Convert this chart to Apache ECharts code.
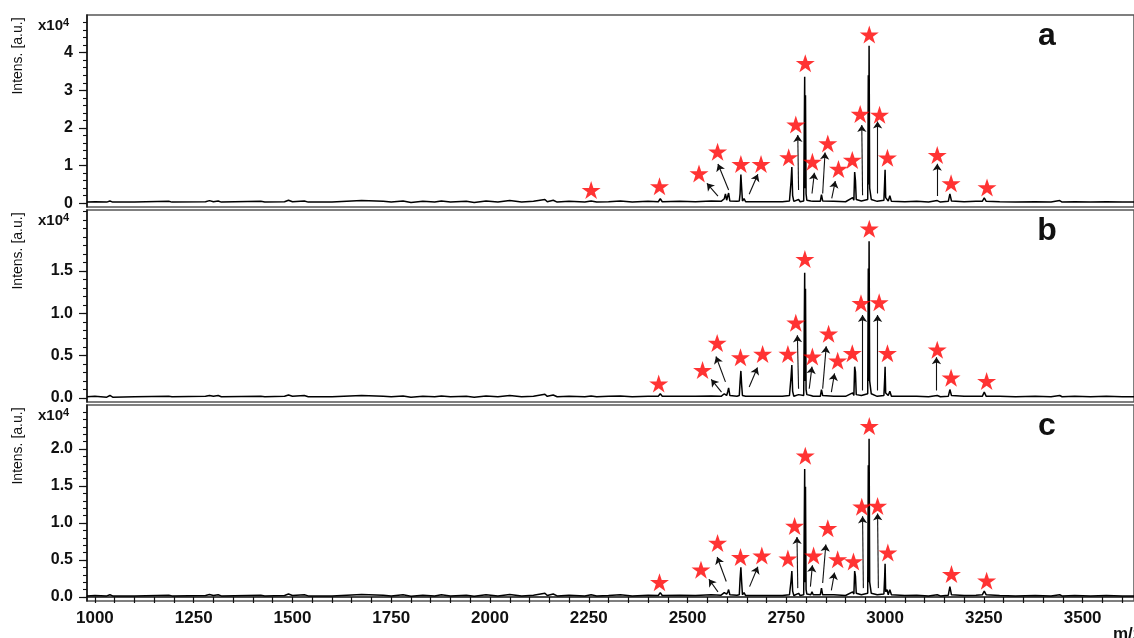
<!DOCTYPE html>
<html><head><meta charset="utf-8">
<script src="https://cdn.jsdelivr.net/npm/echarts@6/dist/echarts.min.js"></script>
<style>html,body{margin:0;padding:0;background:#fff}#c{width:1134px;height:638px}</style>
</head><body><div id="c"></div>
<script>
// ---- data ----
const mz = [
 980,1000,1030,1038,1045,1100,1187,1195,1280,1290,
 1300,1312,1320,1420,1430,1480,1490,1500,1530,1540,
 1600,1675,1680,1730,1750,1780,1800,1830,1860,1877,
 1900,1940,1960,1990,2020,2050,2080,2110,2139,2145,
 2160,2170,2200,2240,2256,2270,2300,2330,2360,2400,
 2426,2431,2436,2480,2520,2560,2585,2593,2596,2599,
 2602,2604,2607,2625,2631,2633,2635,2637,2639,2643,
 2647,2700,2740,2758,2762,2764,2766,2769,2781,2785,
 2794,2796.5,2797.5,2798.5,2800,2802,2812,2815,2818,2836,
 2839,2842,2870,2900,2918,2921,2923,2925,2927,2940,
 2956,2957.5,2958.5,2959.5,2961,2963,2965,2980,2997,2999,
 3000,3001.5,3005,3008,3012,3016,3050,3080,3110,3132,
 3140,3160,3164,3168,3200,3230,3246,3251,3256,3290,
 3330,3380,3420,3442,3448,3480,3520,3560,3600,3630];
const intensityA = [
 .03,.04,.03,.06,.03,.03,.05,.03,.04,.07,
 .04,.06,.03,.05,.03,.04,.08,.04,.06,.03,
 .03,.07,.03,.05,.03,.06,.02,.05,.03,.06,
 .03,.05,.02,.06,.03,.07,.03,.05,.10,.04,
 .08,.03,.05,.03,.06,.03,.04,.06,.03,.05,
 .04,.12,.04,.05,.04,.06,.05,.12,.25,.08,
 .20,.27,.06,.05,.06,.25,.76,.40,.06,.12,
 .04,.04,.04,.06,.58,.96,.20,.05,.10,.04,
 .06,3.36,.40,2.87,.25,.08,.06,.11,.05,.05,
 .23,.06,.05,.04,.15,.08,.83,.60,.10,.06,
 .10,3.40,.50,4.18,.40,.45,.10,.05,.08,.60,
 .89,.15,.20,.06,.20,.05,.04,.05,.03,.07,
 .03,.05,.25,.06,.04,.05,.05,.14,.05,.04,
 .03,.04,.03,.07,.03,.04,.03,.04,.03,.03];
const intensityB = [
 .015,.02,.01,.03,.01,.015,.02,.015,.02,.03,
 .02,.03,.015,.02,.015,.02,.035,.02,.03,.015,
 .015,.03,.015,.02,.015,.025,.01,.02,.015,.025,
 .015,.02,.01,.025,.015,.03,.015,.02,.045,.02,
 .035,.015,.02,.015,.025,.015,.02,.025,.015,.02,
 .02,.05,.02,.02,.02,.025,.02,.05,.07,.03,
 .08,.12,.03,.02,.03,.19,.32,.15,.03,.05,
 .02,.02,.02,.03,.25,.39,.08,.02,.04,.02,
 .03,1.48,.20,1.29,.10,.04,.03,.05,.02,.02,
 .10,.03,.02,.02,.06,.03,.37,.31,.04,.03,
 .05,1.53,.20,1.85,.20,.20,.05,.02,.03,.23,
 .37,.06,.08,.03,.08,.02,.02,.02,.015,.03,
 .015,.02,.10,.03,.02,.02,.02,.07,.02,.02,
 .015,.02,.015,.03,.015,.02,.015,.02,.015,.015];
const intensityC = [
 .015,.02,.015,.03,.015,.015,.025,.015,.02,.035,
 .02,.03,.015,.025,.015,.02,.04,.02,.03,.015,
 .015,.035,.015,.025,.015,.03,.01,.025,.015,.03,
 .015,.025,.01,.03,.015,.035,.015,.025,.05,.02,
 .04,.015,.025,.015,.03,.015,.02,.03,.015,.025,
 .02,.06,.02,.025,.02,.03,.025,.06,.06,.04,
 .07,.10,.03,.025,.03,.25,.40,.20,.03,.06,
 .02,.02,.02,.03,.22,.35,.08,.02,.05,.02,
 .03,1.73,.20,1.49,.10,.04,.03,.07,.03,.03,
 .12,.03,.03,.02,.07,.04,.35,.28,.05,.03,
 .05,1.78,.20,2.14,.20,.20,.05,.03,.04,.28,
 .45,.07,.10,.03,.10,.03,.02,.025,.015,.03,
 .015,.025,.14,.03,.02,.025,.03,.08,.03,.02,
 .015,.02,.015,.03,.015,.02,.015,.02,.015,.015];

// star annotations [m/z, intensity x1e4]
const starsA = [[2256,.35],[2429,.45],[2529,.79],[2576,1.37],[2635,1.04],[2686,1.04],[2756,1.22],[2774,2.09],[2798,3.72],[2816,1.10],[2855,1.59],[2882,.91],[2917,1.15],[2937,2.37],[2960,4.48],[2986,2.35],[3006,1.21],[3132,1.28],[3167,.53],[3258,.42]];
const starsB = [[2427,.17],[2538,.33],[2575,.65],[2634,.48],[2690,.52],[2754,.52],[2774,.89],[2797,1.64],[2816,.49],[2857,.76],[2880,.44],[2917,.53],[2939,1.12],[2960,2.0],[2985,1.13],[3006,.53],[3132,.57],[3167,.24],[3257,.20]];
const starsC = [[2429,.20],[2534,.37],[2576,.73],[2634,.54],[2688,.56],[2754,.52],[2771,.96],[2798,1.91],[2819,.56],[2855,.93],[2880,.51],[2920,.48],[2941,1.22],[2960,2.31],[2981,1.23],[3007,.60],[3168,.31],[3257,.22]];

// arrows [[tail], [head]]
const arrowsA = [[[2577,.19],[2549,.53]],[[2604,.35],[2577,1.04]],[[2656,.24],[2678,.77]],[[2781,.35],[2779,1.81]],[[2815,.26],[2821,.81]],[[2842,.26],[2848,1.35]],[[2865,.13],[2874,.59]],[[2943,.21],[2941,2.08]],[[2981,.26],[2981,2.17]],[[3132,.19],[3132,1.05]]];
const arrowsB = [[[2586,.07],[2560,.22]],[[2596,.19],[2572,.49]],[[2656,.13],[2677,.36]],[[2781,.11],[2778,.74]],[[2808,.11],[2815,.37]],[[2842,.11],[2851,.61]],[[2864,.07],[2872,.29]],[[2943,.09],[2943,.98]],[[2981,.09],[2981,.98]],[[3130,.09],[3130,.48]]];
const arrowsC = [[[2577,.07],[2554,.24]],[[2598,.21],[2575,.54]],[[2657,.14],[2678,.41]],[[2779,.12],[2777,.81]],[[2811,.14],[2816,.43]],[[2842,.19],[2850,.71]],[[2864,.09],[2872,.33]],[[2945,.12],[2943,1.09]],[[2983,.12],[2981,1.13]]];

// tick labels
const xTickLabels = [1000,1250,1500,1750,2000,2250,2500,2750,3000,3250,3500];
const yLabelsA = [0,1,2,3,4];
const yLabelsB = [0,0.5,1.0,1.5];
const yLabelsC = [0,0.5,1.0,1.5,2.0];
const panelLetters = ['a','b','c'];
const yName = 'Intens. [a.u.]';
const xName = 'm/z';

// ---- helpers ----
function steps(from, to, step){ const r=[]; for(let v=from; v<=to+1e-9; v+=step) r.push(+v.toFixed(3)); return r; }
const xMinorTicks = steps(1000, 3600, 50);

const panels = [
  {top:15,  height:192, min:-0.1,  max:5.0,  labels:yLabelsA, minor:steps(0,4.8,0.2), dec:0, vals:intensityA, stars:starsA, arrows:arrowsA},
  {top:210, height:192, min:-0.047,max:2.22, labels:yLabelsB, minor:steps(0,2.2,0.1), dec:1, vals:intensityB, stars:starsB, arrows:arrowsB},
  {top:405, height:196, min:-0.054,max:2.595,labels:yLabelsC, minor:steps(0,2.5,0.1), dec:1, vals:intensityC, stars:starsC, arrows:arrowsC}
];
const XMIN = 980, XMAX = 3630;
const starPath = 'path://M50,0L61.2,34.5L97.6,34.5L68.2,55.9L79.4,90.5L50,69.1L20.6,90.5L31.8,55.9L2.4,34.5L38.8,34.5Z';

const grid=[], xAxis=[], yAxis=[], series=[], graphic=[];
panels.forEach((p,i)=>{
  grid.push({left:87,right:-2,top:p.top,height:p.height,show:true,borderColor:'#555',borderWidth:1.5,backgroundColor:'transparent'});
  const last = i===panels.length-1;
  xAxis.push({type:'value',gridIndex:i,min:XMIN,max:XMAX,show:last,position:'bottom',
    axisLine:{show:true,lineStyle:{color:'#111',width:1.5}},
    axisTick:{show:true,inside:false,length:6,customValues:xMinorTicks,lineStyle:{color:'#111',width:1.2}},
    axisLabel:{show:true,customValues:xTickLabels,margin:9,color:'#111',fontFamily:'Arial',fontWeight:'bold',fontSize:17,
      formatter:(v)=>String(Math.round(v))},
    splitLine:{show:false}});
  yAxis.push({type:'value',gridIndex:i,min:p.min,max:p.max,position:'left',offset:0,
    axisLine:{show:true,lineStyle:{color:'#111',width:1.5}},
    axisTick:{show:true,length:8,customValues:p.labels,lineStyle:{color:'#111',width:1.2}},
    axisLabel:{show:true,customValues:p.labels,margin:14,color:'#111',fontFamily:'Arial',fontWeight:'bold',fontSize:16,
      formatter:(v)=>Number(v).toFixed(p.dec)},
    splitLine:{show:false}});
  yAxis.push({type:'value',gridIndex:i,min:p.min,max:p.max,position:'left',offset:0,
    axisLine:{show:false},
    axisTick:{show:true,length:4,customValues:p.minor,lineStyle:{color:'#111',width:1.1}},
    axisLabel:{show:false},splitLine:{show:false}});
  series.push({type:'line',xAxisIndex:i,yAxisIndex:2*i,data:mz.map((m,k)=>[m,p.vals[k]]),
    showSymbol:false,symbol:'none',lineStyle:{color:'#000',width:1.5},animation:false,z:2});
  series.push({type:'lines',coordinateSystem:'cartesian2d',xAxisIndex:i,yAxisIndex:2*i,
    data:p.arrows.map(a=>({coords:a})),symbol:['none','arrow'],symbolSize:7,
    lineStyle:{color:'#111',width:1.1,opacity:1},animation:false,z:3});
  series.push({type:'scatter',xAxisIndex:i,yAxisIndex:2*i,data:p.stars,symbol:starPath,symbolSize:[19,18],
    itemStyle:{color:'#ff0000'},animation:false,z:4});

  // axis name, x10^4 and panel letter
  graphic.push({type:'text',x:18,y:p.top+41,rotation:Math.PI/2,
    style:{text:yName,font:'14px Arial',fill:'#111',align:'center',verticalAlign:'middle'}});
  graphic.push({type:'text',x:63,y:p.top+11,style:{text:'x10',font:'bold 15px Arial',fill:'#111',align:'right',verticalAlign:'middle'}});
  graphic.push({type:'text',x:63,y:p.top+8,style:{text:'4',font:'bold 11px Arial',fill:'#111',align:'left',verticalAlign:'middle'}});
  graphic.push({type:'text',x:1047,y:p.top+21,style:{text:panelLetters[i],font:'bold 32px Arial',fill:'#111',align:'center',verticalAlign:'middle'}});
});
graphic.push({type:'text',x:1113,y:626,style:{text:xName,font:'bold 17px Arial',fill:'#111',align:'left',verticalAlign:'top'}});

const chart = echarts.init(document.getElementById('c'));
chart.setOption({animation:false,backgroundColor:'#fff',grid,xAxis,yAxis,series,graphic});
</script></body></html>
